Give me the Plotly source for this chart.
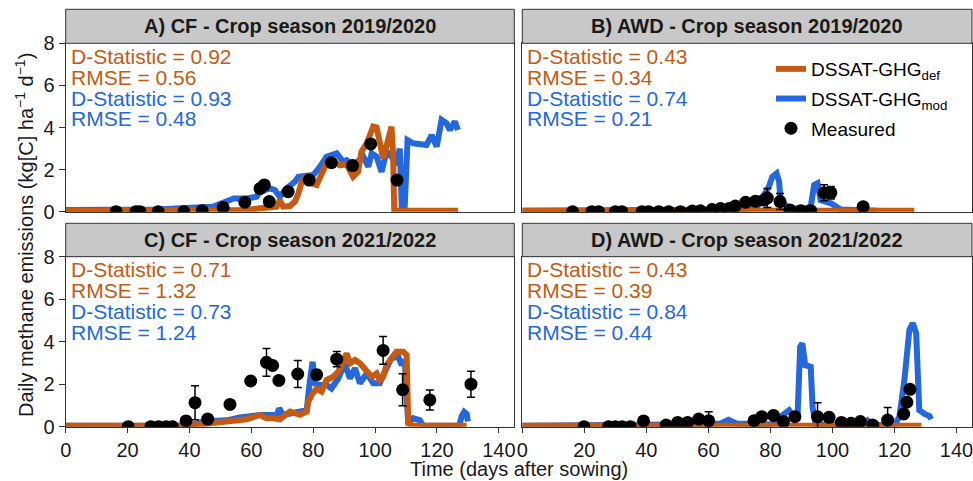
import plotly.graph_objects as go

W, H = 973, 481
FONT = "Liberation Sans, Arial, sans-serif"
ORANGE = "#C65A11"
BLUE = "#2468DC"

# ---------------- data ----------------
# Panel A: CF 2019/2020
a_def_day = [0, 20, 40, 55, 58.5, 62.8, 68.2, 69.2, 70.3, 72.5, 74.1, 75.2, 76.3, 77.3, 79.5, 81.1, 82.2, 84.3,
             86.5, 88.6, 90.8, 92.9, 94.5, 95.6, 97.3, 99.4, 100.5, 101.6, 102.6, 104.2, 105.3, 105.8, 106.2, 126.8]
a_def_val = [0.05, 0.05, 0.05, 0.06, 0.08, 0.16, 0.24, 0.55, 0.24, 0.27, 0.48, 0.87, 1.43, 1.6, 1.35, 1.27, 1.66, 2.3,
             2.38, 2.2, 2.25, 1.66, 1.9, 2.85, 3.25, 4.04, 4.0, 3.1, 2.54, 3.4, 4.04, 2.8, 0.05, 0.05]
a_mod_day = [0, 10, 20, 30, 37, 47.7, 53.1, 54.2, 58.5, 61.7, 62.8, 66, 67.6, 69.2, 71.4, 74.1, 75.2, 76.8, 80,
             82.2, 84.3, 87.6, 89.7, 90.8, 92.9, 96.2, 97.8, 98.9, 100.5, 102.1, 103.7, 105.3, 106.9, 108.0,
             108.6, 109.6, 110.5, 112.3, 116.6, 118.3, 119.9, 121.5, 123.1, 124.2, 125.8, 126.8]
a_mod_val = [0.08, 0.08, 0.1, 0.1, 0.16, 0.24, 0.55, 0.63, 0.63, 0.71, 0.95, 1.11, 1.03, 0.71, 1.11, 1.43, 1.66, 1.7, 1.74,
             2.14, 2.61, 2.77, 2.37, 2.45, 2.22, 2.61, 2.14, 2.77, 2.61, 1.9, 2.85, 2.61, 2.22, 3.0,
             0.3, 0.3, 3.4, 3.25, 3.17, 3.64, 3.09, 4.36, 4.2, 3.88, 4.28, 3.88]
a_obs_day = [16.3, 22.7, 24, 29.9, 38.2, 44.1, 50.9, 57.9, 62.8, 64.2, 65.8, 71.9, 78.7, 85.9, 92.7, 98.6, 107.1]
a_obs_val = [0, 0, 0, 0, 0, 0.05, 0.2, 0.45, 1.1, 1.27, 0.48, 0.95, 1.5, 2.33, 2.19, 3.22, 1.5]
a_obs_err = [0, 0, 0, 0, 0, 0, 0, 0, 0, 0, 0, 0, 0, 0.12, 0, 0, 0]

# Panel B: AWD 2019/2020
b_def_day = [0, 40, 80, 126.4]
b_def_val = [0.05, 0.05, 0.05, 0.05]
b_mod_day = [0, 60, 70, 75.8, 79.5, 80.6, 82.0, 82.8, 83.3, 85.5, 89.8, 93.0, 94.1, 95.2, 96.2, 99.5, 101.6, 102.7, 114.6]
b_mod_val = [0.05, 0.08, 0.1, 0.24, 1.19, 1.66, 1.82, 1.43, 0.5, 0.24, 0.1, 0.24, 1.27, 1.35, 0.55, 0.4, 0.24, 0.1, 0.05]
b_obs_day = [16.2, 22.4, 24.6, 30, 32.1, 38.6, 40.7, 44, 47.2, 51, 54.8, 57.4, 61.2, 63.9, 66.6, 68.7, 72, 75.2,
             77.9, 79, 83.1, 86.3, 89.8, 93, 97.3, 99.5, 109.9]
b_obs_val = [0, 0, 0, 0, 0, 0, 0, 0, 0, 0, 0.03, 0.05, 0.1, 0.15, 0.15, 0.27, 0.45, 0.5,
             0.55, 0.65, 0.48, 0.08, 0.05, 0.05, 0.9, 0.9, 0.24]
b_obs_err = [0, 0, 0, 0, 0, 0, 0, 0, 0, 0, 0, 0, 0, 0, 0, 0, 0, 0,
             0, 0.45, 0.38, 0, 0, 0, 0.38, 0.3, 0]

# Panel C: CF 2021/2022
c_def_day = [0, 40, 44.5, 52, 58.5, 62.8, 64.9, 67.1, 69.2, 72.5, 75.7, 77.9, 78.4, 79.5, 81.1, 82.7, 84.3, 86.5,
             88.1, 89.7, 90.8, 91.9, 93.5, 95.1, 97.3, 98.9, 100.5, 101.5, 102.6, 103.7, 105.3, 106.9, 109.1,
             110.2, 110.7, 112.2, 129.6]
c_def_val = [0.05, 0.05, 0.13, 0.24, 0.35, 0.55, 0.4, 0.4, 0.35, 0.71, 0.56, 0.71, 1.18, 1.49, 1.8, 1.65, 2.2, 2.35,
             2.59, 3.06, 3.45, 2.98, 3.14, 2.98, 2.59, 2.35, 2.51, 2.2, 2.35, 2.9, 3.22, 3.53, 3.53,
             3.37, 0.16, 0.05, 0.05]
c_mod_day = [0, 40, 44.5, 52, 56.3, 62.8, 68.2, 69.0, 70.3, 75.7, 77.9, 78.9, 79.8, 80.5, 82.2, 84.3, 85.9, 88.1,
             90.2, 91.9, 93.5, 95.1, 97.3, 99.4, 101.5, 103.7, 105.3, 107.5, 108.6, 109.6, 110.7, 112.3, 114.5,
             115.5, 127.2, 128.0, 128.8, 129.6, 130.0]
c_mod_val = [0.05, 0.05, 0.24, 0.3, 0.44, 0.55, 0.55, 0.86, 0.55, 0.71, 0.78, 2.12, 3.06, 2.04, 1.96, 1.96, 1.8, 2.27,
             2.98, 2.27, 2.75, 2.04, 2.51, 2.04, 2.04, 2.75, 3.22, 3.3, 2.9, 3.14, 0.16, 0.4, 0.3,
             0.05, 0.05, 0.5, 0.7, 0.6, 0.25]
c_obs_day = [20.2, 27.5, 30, 32.5, 34.5, 38.9, 41.8, 45.9, 53.1, 59.8, 64.9, 66.9, 68.9, 75, 81.1, 87.6, 102.6,
             108.9, 117.7, 131]
c_obs_val = [0, 0, 0, 0, 0, 0.27, 1.13, 0.36, 1.05, 2.15, 3.03, 2.88, 2.18, 2.48, 2.45, 3.18, 3.59,
             1.74, 1.26, 2.0]
c_obs_err = [0, 0, 0, 0, 0, 0.15, 0.8, 0, 0.12, 0, 0.65, 0, 0.15, 0.63, 0, 0.36, 0.65,
             0.75, 0.47, 0.61]

# Panel D: AWD 2021/2022
d_def_day = [0, 40, 80, 128.7]
d_def_val = [0.05, 0.05, 0.05, 0.05]
d_mod_day = [0, 55, 58, 64, 66.5, 69, 73, 80.3, 83.3, 86.0, 87.6, 88.7, 89.6, 90.3, 91.2, 93.0, 93.6, 94.1, 94.6,
             109.5, 111.3, 113.0, 120.0, 121.6, 123.2, 124.8, 125.9, 127.0, 128.0, 129.7, 131.3, 131.8]
d_mod_val = [0.05, 0.05, 0.12, 0.15, 0.32, 0.15, 0.12, 0.1, 0.47, 0.78, 0.47, 0.3, 3.76, 3.92, 2.9, 2.82, 0.9, 0.3, 0.1,
             0.1, 0.3, 0.08, 0.08, 0.47, 2.2, 4.55, 4.87, 4.4, 0.78, 0.6, 0.5, 0.35]
d_obs_day = [19.9, 27.8, 30, 32.2, 34.8, 39.1, 46.4, 50.1, 53.3, 56.9, 60.1, 74.7, 77.2, 81, 84.2, 87.9, 95.2,
             98.9, 102.9, 106, 109, 113, 117.8, 123, 124, 125]
d_obs_val = [0, 0, 0, 0, 0, 0.27, 0.08, 0.2, 0.2, 0.36, 0.28, 0.28, 0.47, 0.53, 0.24, 0.47, 0.47,
             0.44, 0.2, 0.16, 0.24, 0.08, 0.31, 0.6, 1.15, 1.76]
d_obs_err = [0, 0, 0, 0, 0, 0.15, 0, 0, 0, 0, 0.42, 0, 0, 0, 0, 0, 0.66,
             0, 0, 0, 0, 0, 0.59, 0, 0, 0.2]

panel_titles = ["A) CF - Crop season 2019/2020", "B) AWD - Crop season 2019/2020",
                "C) CF - Crop season 2021/2022", "D) AWD - Crop season 2021/2022"]
stats_def = [("0.92", "0.56"), ("0.43", "0.34"), ("0.71", "1.32"), ("0.43", "0.39")]
stats_mod = [("0.93", "0.48"), ("0.74", "0.21"), ("0.73", "1.24"), ("0.84", "0.44")]
x_ticks = [0, 20, 40, 60, 80, 100, 120, 140]
y_ticks = [0, 2, 4, 6, 8]

panels = [
    (a_def_day, a_def_val, a_mod_day, a_mod_val, a_obs_day, a_obs_val, a_obs_err),
    (b_def_day, b_def_val, b_mod_day, b_mod_val, b_obs_day, b_obs_val, b_obs_err),
    (c_def_day, c_def_val, c_mod_day, c_mod_val, c_obs_day, c_obs_val, c_obs_err),
    (d_def_day, d_def_val, d_mod_day, d_mod_val, d_obs_day, d_obs_val, d_obs_err),
]

# ---------------- layout geometry (pixels) ----------------
col_px = [(65.7, 514.3), (522.3, 972.0)]
row_plot_px = [(43.3, 211.7), (256.7, 426.7)]
row_strip_px = [(9.3, 43.3), (223.3, 256.7)]


def px_x(p):
    return p / W


def px_y(p):
    return 1 - p / H


fig = go.Figure()
layout = dict(
    width=W, height=H, autosize=False,
    margin=dict(l=0, r=0, t=0, b=0, pad=0, autoexpand=False),
    paper_bgcolor="white", plot_bgcolor="white",
    font=dict(family=FONT, size=20, color="#1a1a1a"),
    showlegend=True,
    legend=dict(
        x=px_x(771), y=px_y(50), xanchor="left", yanchor="top",
        bgcolor="rgba(0,0,0,0)", font=dict(size=19, color="black", family=FONT),
        tracegroupgap=2, itemwidth=30,
    ),
)
shapes = []
annotations = []

for i, (ddef, vdef, dmod, vmod, dobs, vobs, eobs) in enumerate(panels):
    r, c = divmod(i, 2)
    n = "" if i == 0 else str(i + 1)
    xa, ya = "x" + n, "y" + n
    first = i == 0
    fig.add_trace(go.Scatter(x=dmod, y=vmod, mode="lines", xaxis=xa, yaxis=ya,
                             line=dict(color=BLUE, width=6), name="DSSAT-GHG<sub>mod</sub>",
                             legendgroup="mod", showlegend=first, legendrank=2, hoverinfo="skip"))
    fig.add_trace(go.Scatter(x=ddef, y=vdef, mode="lines", xaxis=xa, yaxis=ya,
                             line=dict(color=ORANGE, width=6), name="DSSAT-GHG<sub>def</sub>",
                             legendgroup="def", showlegend=first, legendrank=1, hoverinfo="skip"))
    fig.add_trace(go.Scatter(x=dobs, y=vobs, mode="markers", xaxis=xa, yaxis=ya,
                             marker=dict(color="black", size=13),
                             error_y=dict(type="data", array=eobs, color="black", thickness=1.5, width=4),
                             name="Measured", legendgroup="obs", showlegend=first, legendrank=3,
                             hoverinfo="skip"))

    x0, x1 = col_px[c]
    t0, t1 = row_plot_px[r]
    s0, s1 = row_strip_px[r]
    bottom = r == 1
    left = c == 0
    layout["xaxis" + n] = dict(
        domain=[px_x(x0), px_x(x1)], anchor=ya, range=[0, 145], automargin=False,
        tickvals=x_ticks, showticklabels=bottom, ticks="outside" if bottom else "",
        ticklabeloverflow="allow",
        ticklen=5, tickwidth=1, tickcolor="#333", showgrid=False, zeroline=False,
        showline=True, mirror=True, linecolor="#333", linewidth=1,
        tickfont=dict(size=20, color="#1a1a1a"),
    )
    layout["yaxis" + n] = dict(
        domain=[px_y(t1), px_y(t0)], anchor=xa, range=[0, 8], automargin=False,
        tickvals=y_ticks, showticklabels=left, ticks="outside" if left else "",
        ticklabeloverflow="allow",
        ticklen=6, tickwidth=1, tickcolor="#333", showgrid=False, zeroline=False,
        showline=True, mirror=True, linecolor="#333", linewidth=1,
        tickfont=dict(size=20, color="#1a1a1a"),
    )
    # strip
    shapes.append(dict(type="rect", xref="paper", yref="paper",
                       x0=px_x(x0), x1=px_x(x1), y0=px_y(s1), y1=px_y(s0),
                       fillcolor="#C8C8C8", line=dict(color="#333", width=1)))
    annotations.append(dict(text="<b>%s</b>" % panel_titles[i], xref="paper", yref="paper",
                            x=px_x((x0 + x1) / 2), y=px_y((s0 + s1) / 2), showarrow=False,
                            xanchor="center", yanchor="middle",
                            font=dict(size=20, color="#1a1a1a", family=FONT)))
    # statistics text
    lines = [("D-Statistic = " + stats_def[i][0], ORANGE), ("RMSE = " + stats_def[i][1], ORANGE),
             ("D-Statistic = " + stats_mod[i][0], BLUE), ("RMSE = " + stats_mod[i][1], BLUE)]
    for k, (txt, col) in enumerate(lines):
        annotations.append(dict(text=txt, xref="paper", yref="paper",
                                x=px_x(x0 + 3), y=px_y(t0 + 13.2 + 20.8 * k), showarrow=False,
                                xanchor="left", yanchor="middle",
                                font=dict(size=21, color=col, family=FONT)))

annotations.append(dict(text="Time (days after sowing)", xref="paper", yref="paper",
                        x=px_x(519), y=px_y(468.5), showarrow=False, xanchor="center", yanchor="middle",
                        font=dict(size=20, color="#1a1a1a", family=FONT)))
annotations.append(dict(text="Daily methane emissions (kg[C] ha<sup>\u22121</sup> d<sup>\u22121</sup>)",
                        xref="paper", yref="paper", x=px_x(24), y=px_y(235), showarrow=False,
                        textangle=-90, xanchor="center", yanchor="middle",
                        font=dict(size=20, color="#1a1a1a", family=FONT)))

layout["shapes"] = shapes
layout["annotations"] = annotations
fig.update_layout(**layout)
fig.write_html("out.html")
